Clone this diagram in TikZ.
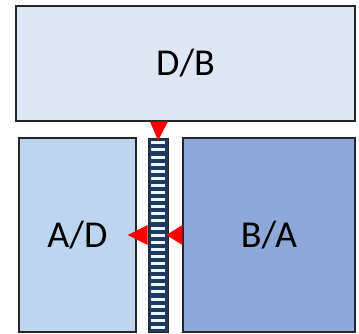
\documentclass[tikz,border=0pt]{standalone}
\usepackage{fontspec}
\setmainfont{Carlito}
\usetikzlibrary{calc}
\definecolor{cajaSup}{HTML}{DEE8F5}
\definecolor{cajaIzq}{HTML}{BDD5EE}
\definecolor{cajaDer}{HTML}{8EA8DA}
\definecolor{barra}{HTML}{1F3A60}
\tikzset{
    caja/.style={draw=black!85,line width=1.2pt,inner sep=0pt,font=\fontsize{38}{44}\selectfont},
    flecha/.style={fill=red,draw=none}
}
\begin{document}
\begin{tikzpicture}[x=1pt,y=-1pt]
    \useasboundingbox (0,0) rectangle (359,333);
    %Cajas
    \node[caja,fill=cajaSup,minimum width=339pt,minimum height=115pt] (db) at (185.5,63.5) {D/B};
    \node[caja,fill=cajaIzq,minimum width=117pt,minimum height=194pt] (ad) at (77.5,235) {A/D};
    \node[caja,fill=cajaDer,minimum width=172pt,minimum height=194pt] (ba) at (269,235) {B/A};

    %Barra rayada
    \node[draw=black!85,fill=barra,line width=0.8pt,minimum width=20pt,minimum height=194pt,inner sep=0pt] (bar) at (158,235) {};
    \foreach \i in {0,...,26}{
        \fill[white!92!cyan] (151,{141.3+\i*7.1}) rectangle (165,{144.3+\i*7.1});
    }

    %Flechas
    \fill[flecha] ($(db.south)+(-35.5,0)$) -- ($(db.south)+(-17.5,0)$) -- ($(bar.north)+(0,3)$) -- cycle;
    \fill[flecha] ($(bar.west)+(0,-10)$) -- ($(bar.west)+(0,10)$) -- ($(bar.west)+(-20,0)$) -- cycle;
    \fill[flecha] ($(ba.west)+(0,-10)$) -- ($(ba.west)+(0,10)$) -- ($(bar.east)+(-2,0)$) -- cycle;
\end{tikzpicture}
\end{document}
